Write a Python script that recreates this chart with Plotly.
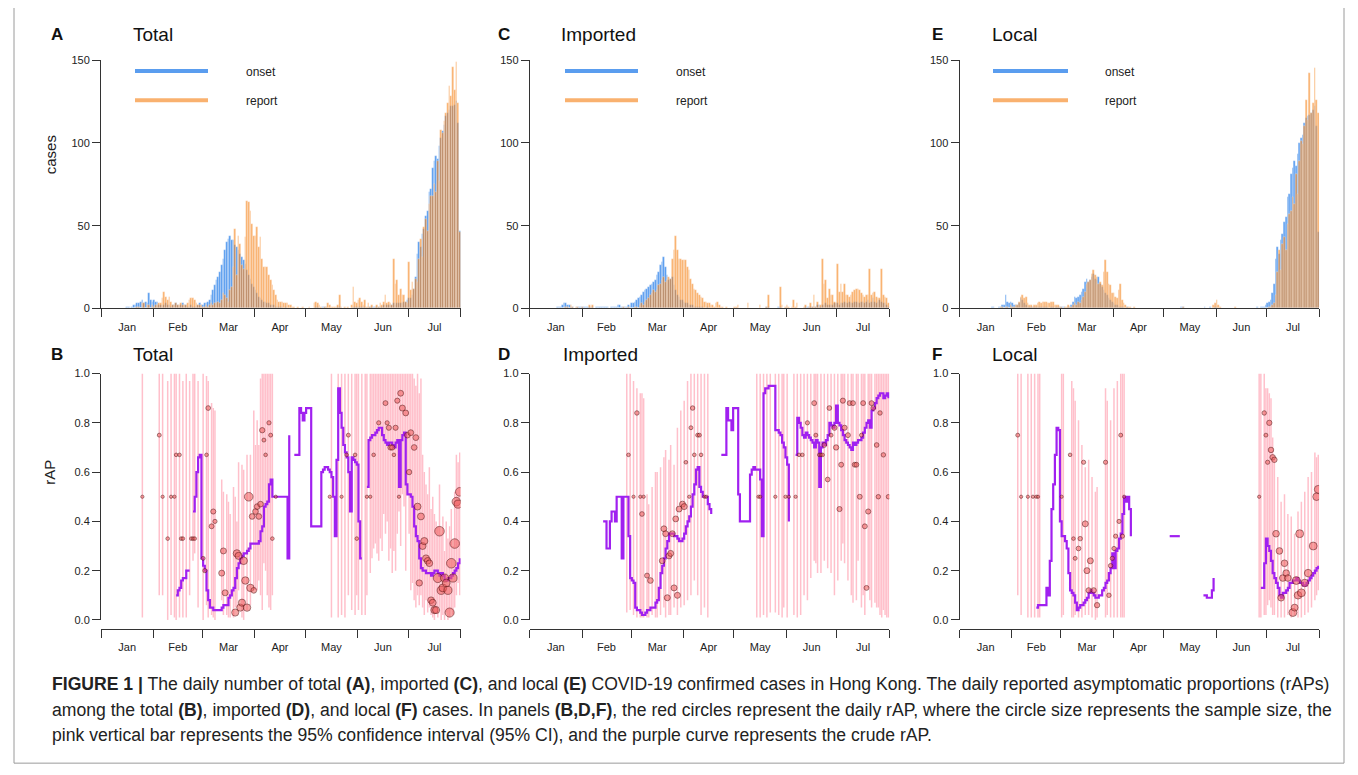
import numpy as np
import pandas as pd
import plotly.graph_objects as go

W, H = 1358, 775

# ---- daily case counts, 16 Jan .. 31 Jul 2020 (one line per month) ----
total_onset = (
    [1, 1, 0, 1, 2, 2, 3, 3, 4, 5, 3, 4, 3, 9, 5, 4]
    + [5, 4, 4, 2, 2, 1, 2, 3, 2, 2, 1, 2, 2, 3, 2, 1, 2, 3, 2, 2, 1, 1, 2, 1, 1, 1, 2, 3, 2]
    + [2, 3, 3, 4, 5, 8, 11, 14, 17, 19, 22, 26, 30, 35, 40, 42, 44, 41, 41, 38, 37, 35, 33, 31, 29, 27, 23, 20, 18, 15, 13]
    + [11, 9, 7, 6, 5, 4, 4, 3, 3, 2, 2, 2, 1, 1, 1, 1, 1, 0, 1, 0, 0, 0, 0, 0, 0, 0, 0, 0, 0, 0]
    + [0, 0, 0, 0, 0, 0, 1, 1, 0, 0, 1, 1, 1, 0, 0, 0, 0, 0, 0, 1, 1, 0, 0, 0, 0, 0, 0, 0, 1, 1, 1]
    + [1, 1, 1, 1, 1, 0, 1, 1, 1, 1, 1, 1, 1, 1, 1, 2, 1, 2, 2, 2, 2, 3, 2, 3, 3, 3, 3, 4, 4, 5]
    + [6, 6, 8, 12, 19, 33, 40, 37, 45, 48, 56, 59, 70, 72, 85, 89, 92, 90, 98, 103, 107, 111, 116, 118, 120, 122, 122, 123, 125, 112, 47]
)
total_report = (
    [0, 0, 0, 0, 0, 0, 1, 1, 0, 3, 3, 0, 2, 2, 0, 2]
    + [1, 2, 2, 3, 3, 6, 10, 7, 5, 7, 4, 2, 2, 3, 2, 2, 3, 2, 2, 2, 3, 5, 6, 6, 5, 3, 2, 2, 2]
    + [1, 1, 2, 1, 2, 3, 2, 3, 3, 4, 3, 5, 9, 8, 6, 4, 11, 13, 25, 48, 20, 44, 39, 26, 24, 43, 65, 64, 59, 51, 44]
    + [44, 49, 37, 43, 30, 25, 25, 25, 20, 17, 14, 11, 8, 5, 4, 4, 4, 3, 3, 3, 2, 2, 1, 1, 0, 1, 0, 0, 1, 0]
    + [0, 0, 1, 0, 0, 3, 4, 3, 2, 1, 0, 1, 1, 3, 2, 1, 1, 1, 1, 2, 8, 1, 0, 1, 0, 1, 0, 2, 13, 4, 3]
    + [5, 6, 4, 2, 5, 1, 3, 1, 2, 0, 1, 2, 1, 3, 2, 4, 8, 3, 4, 3, 2, 30, 15, 17, 8, 12, 8, 8, 4, 3]
    + [28, 11, 16, 12, 18, 16, 30, 42, 31, 49, 54, 47, 63, 68, 68, 75, 70, 89, 77, 108, 106, 113, 118, 124, 134, 128, 146, 132, 149, 124, 46]
)
imported_onset = (
    [0, 1, 1, 1, 2, 3, 3, 2, 2, 1, 1, 0, 0, 1, 1, 1]
    + [1, 1, 1, 1, 1, 0, 1, 0, 1, 1, 1, 1, 1, 1, 1, 1, 0, 1, 1, 1, 1, 2, 2, 1, 1, 1, 1, 2, 1]
    + [3, 3, 4, 5, 6, 7, 8, 10, 11, 12, 13, 14, 15, 16, 17, 20, 22, 26, 28, 31, 25, 20, 17, 18, 19, 14, 11, 8, 7, 5, 5]
    + [4, 3, 3, 2, 2, 2, 1, 1, 1, 1, 1, 1, 0, 0, 1, 0, 0, 0, 0, 0, 0, 0, 0, 0, 0, 0, 0, 0, 0, 0]
    + [0, 0, 0, 0, 0, 0, 0, 0, 0, 0, 0, 0, 0, 0, 0, 0, 0, 0, 0, 1, 1, 0, 0, 0, 0, 0, 1, 1, 0, 0, 0]
    + [1, 0, 0, 0, 0, 0, 0, 0, 0, 0, 0, 1, 1, 1, 1, 1, 1, 1, 2, 2, 1, 2, 2, 3, 2, 2, 2, 2, 3, 3]
    + [3, 2, 3, 3, 4, 3, 3, 4, 3, 3, 4, 4, 3, 3, 4, 4, 3, 4, 5, 3, 4, 6, 4, 3, 4, 5, 4, 3, 3, 2, 1]
)
imported_report = (
    [0, 0, 0, 0, 0, 0, 1, 1, 0, 2, 1, 0, 1, 1, 0, 0]
    + [1, 0, 0, 0, 2, 1, 2, 0, 0, 0, 0, 0, 0, 0, 0, 0, 0, 0, 0, 0, 0, 0, 0, 0, 1, 0, 0, 1, 0]
    + [0, 0, 1, 1, 0, 2, 3, 2, 4, 5, 6, 8, 9, 11, 10, 11, 14, 15, 17, 19, 16, 17, 19, 18, 30, 35, 44, 35, 30, 30, 29]
    + [29, 29, 25, 23, 18, 15, 12, 11, 9, 8, 7, 6, 4, 4, 3, 3, 2, 2, 1, 3, 4, 2, 1, 1, 0, 1, 0, 0, 0, 0]
    + [1, 1, 2, 0, 0, 0, 0, 0, 3, 0, 0, 0, 0, 0, 0, 2, 0, 0, 0, 1, 8, 0, 0, 0, 0, 0, 0, 13, 2, 0, 1]
    + [2, 1, 0, 1, 5, 1, 3, 0, 0, 0, 1, 2, 0, 1, 3, 1, 8, 1, 4, 1, 2, 30, 15, 17, 6, 12, 8, 8, 4, 3]
    + [27, 10, 15, 10, 15, 8, 8, 7, 8, 10, 11, 12, 12, 11, 9, 8, 7, 8, 8, 24, 8, 9, 10, 7, 6, 6, 24, 8, 7, 6, 3]
)
local_onset = (
    [0, 0, 0, 0, 1, 1, 0, 0, 1, 1, 2, 2, 8, 4, 3, 4]
    + [3, 2, 2, 2, 3, 6, 5, 3, 2, 1, 1, 1, 1, 1, 1, 1, 1, 1, 1, 1, 1, 1, 0, 1, 1, 0, 1, 1, 1]
    + [1, 1, 1, 0, 1, 1, 2, 4, 7, 6, 7, 8, 10, 12, 16, 18, 16, 17, 19, 21, 18, 17, 19, 15, 13, 11, 9, 8, 6, 5, 4]
    + [3, 2, 2, 1, 1, 1, 1, 0, 1, 0, 0, 0, 0, 0, 0, 0, 0, 0, 0, 0, 0, 0, 0, 0, 0, 0, 0, 0, 0, 0]
    + [0, 0, 0, 0, 0, 0, 0, 0, 0, 0, 1, 1, 0, 0, 0, 0, 0, 0, 0, 0, 0, 0, 0, 0, 1, 0, 0, 1, 0, 0, 1]
    + [1, 0, 0, 0, 0, 0, 0, 0, 0, 0, 0, 0, 0, 0, 0, 0, 0, 0, 0, 0, 0, 0, 0, 0, 1, 0, 1, 1, 1, 2]
    + [3, 4, 5, 9, 15, 30, 37, 33, 41, 45, 52, 55, 67, 69, 81, 85, 89, 86, 93, 100, 103, 105, 112, 115, 116, 117, 118, 120, 122, 110, 46]
)
local_report = (
    [0, 0, 0, 0, 0, 0, 0, 0, 0, 1, 1, 0, 1, 1, 0, 2]
    + [1, 1, 2, 2, 4, 7, 8, 6, 7, 3, 2, 2, 1, 2, 2, 3, 4, 3, 4, 4, 4, 3, 3, 4, 4, 2, 2, 2, 1]
    + [1, 0, 1, 1, 2, 1, 1, 2, 3, 2, 4, 3, 5, 7, 10, 15, 16, 17, 21, 23, 20, 19, 15, 16, 14, 22, 29, 22, 15, 14, 9]
    + [9, 7, 6, 11, 15, 5, 3, 2, 1, 1, 1, 0, 1, 0, 0, 0, 0, 0, 0, 0, 0, 0, 0, 0, 0, 0, 0, 0, 0, 0]
    + [0, 0, 0, 0, 0, 0, 0, 0, 0, 0, 0, 1, 0, 0, 0, 0, 0, 0, 0, 0, 0, 0, 0, 0, 0, 0, 0, 0, 0, 2, 3]
    + [5, 2, 1, 0, 0, 0, 0, 0, 0, 0, 0, 1, 0, 0, 0, 0, 0, 0, 0, 0, 0, 0, 0, 0, 0, 0, 0, 0, 0, 0]
    + [0, 1, 1, 2, 3, 8, 22, 35, 23, 39, 43, 35, 51, 57, 59, 67, 63, 81, 69, 89, 101, 99, 110, 126, 114, 142, 118, 124, 145, 126, 118]
)

# ---- daily rAP panels: day of year (0 = 1 Jan), 95% CI, point estimate, sample size ----
b_ci = [(24, .01, 1), (34, .10, 1), (36, .10, 1), (39, .00, .97), (41, .02, 1), (43, .01, 1), (44, .00, 1),
        (46, .01, 1), (48, .01, .97), (50, .01, 1), (52, .10, .97), (54, .24, 1), (55, .27, 1), (57, .05, .97),
        (60, .00, 1), (62, .06, .99), (63, .01, .97), (65, .02, .88), (66, .01, .86), (67, .00, .85),
        (71, .08, .57), (72, .02, .52), (74, .02, .51), (75, .01, .48), (76, .01, .43), (78, .01, .54),
        (79, .05, .50), (80, .05, .40), (81, .12, .64), (83, .01, .63), (84, .00, .61), (86, .04, .67),
        (88, .06, .67), (90, .12, .85), (91, .12, .71), (92, .12, .81), (93, .16, .71), (94, .10, .98),
        (95, .04, 1), (96, .23, 1), (97, .20, 1), (98, .10, 1), (99, .05, 1), (100, .04, 1), (101, .10, 1),
        (136, .01, 1), (140, .01, 1), (142, .02, 1), (144, .01, 1), (146, .10, 1), (148, .04, 1), (150, .02, 1),
        (151, .10, 1), (152, .04, 1), (154, .02, 1), (156, .02, 1), (157, .10, 1), (159, .19, 1), (160, .25, 1),
        (161, .29, 1), (162, .31, 1), (163, .27, 1), (164, .24, 1), (165, .33, 1), (166, .28, 1), (167, .43, 1),
        (168, .35, 1), (169, .40, 1), (170, .24, 1), (171, .29, 1), (172, .19, 1), (173, .28, 1), (174, .20, 1),
        (175, .35, 1), (176, .44, 1), (177, .30, 1), (178, .51, 1), (179, .46, 1), (180, .20, 1), (181, .51, 1),
        (182, .35, 1), (183, .12, 1), (184, .15, 1), (185, .08, .98), (186, .05, .95), (187, .10, 1),
        (188, .06, .92), (189, .10, .98), (190, .05, .67), (191, .02, .60), (192, .08, .55), (193, .03, .51),
        (194, .05, .62), (195, .02, .45), (196, .01, .50), (197, .00, .43), (198, .03, .40), (199, .01, .38),
        (200, .05, .55), (201, .00, .35), (202, .02, .42), (203, .00, .28), (204, .03, .40), (205, .00, .33),
        (206, .01, .38), (207, .04, .45), (208, .02, .30), (209, .05, .52), (210, .10, .67), (211, .15, .64),
        (212, .10, .68)]
b_pts = [(24, .50, 2), (34, .75, 4), (36, .50, 2), (39, .33, 3), (41, .50, 2), (43, .50, 2), (44, .67, 3),
         (46, .67, 3), (47, .33, 3), (48, .33, 3), (53, .33, 3), (54, .33, 3), (55, .33, 3), (60, .25, 4),
         (61, .20, 5), (62, .67, 3), (63, .86, 7), (65, .38, 8), (66, .44, 9), (67, .40, 5), (71, .19, 14),
         (72, .28, 14), (73, .11, 14), (79, .03, 22), (80, .27, 24), (81, .26, 22), (82, .05, 22), (83, .07, 22),
         (84, .24, 25), (85, .16, 24), (86, .05, 24), (87, .50, 35), (88, .13, 24), (89, .42, 12), (90, .12, 12),
         (91, .44, 12), (92, .46, 12), (93, .42, 12), (94, .47, 12), (95, .77, 10), (96, .73, 4), (97, .67, 3),
         (99, .80, 5), (100, .75, 4), (101, .33, 3), (103, .50, 2), (135, .50, 2), (142, .50, 2), (145, .67, 3),
         (146, .75, 4), (150, .67, 3), (151, .33, 3), (157, .50, 2), (159, .50, 2), (161, .67, 3), (164, .80, 5),
         (168, .88, 8), (169, .80, 5), (170, .78, 9), (171, .70, 10), (172, .70, 10), (173, .67, 3), (174, .78, 9),
         (175, .89, 9), (176, .50, 2), (177, .92, 13), (178, .86, 14), (180, .84, 13), (181, .75, 12),
         (182, .60, 10), (183, .76, 13), (185, .70, 12), (186, .74, 13), (187, .46, 20), (188, .15, 16),
         (189, .42, 20), (190, .30, 20), (191, .32, 22), (192, .25, 20), (193, .24, 18), (194, .23, 18),
         (195, .08, 18), (196, .07, 20), (197, .04, 22), (198, .04, 22), (199, .17, 40), (200, .36, 45),
         (201, .12, 30), (202, .13, 28), (203, .17, 30), (204, .15, 28), (205, .12, 30), (206, .03, 40),
         (207, .23, 45), (208, .17, 30), (209, .31, 45), (210, .48, 35), (211, .47, 30), (212, .52, 35)]
b_crude_start = 44
b_crude = [.10, .12, .13, .16, .17, .17, .20, .20, .20, None,
           .44, .50, .60, .66, .67, .25, .22, .20, .12, .08,
           .05, .05, .04, .04, .04, .04, .04, .05, .06, .06,
           .06, .09, .10, .12, .13, .17, .21, .23, .25, .26,
           .27, .27, .28, .29, .31, .31, .31, .31, .31, .32,
           .36, .38, .46, .47, .48, .55, .57, .50, .50, .50,
           .50, .50, .50, .50, .50, .50, .25, .75, None, None,
           .67, .67, .67, .86, .84, .81, .84, .86, .86, .86,
           .38, .38, .38, .38, .38, .38, .60, .61, .62, .62,
           .61, .60, .58, .50, .34, .65, .94, .84, .78, .71,
           .68, .66, .60, .44, .66, .65, .64, .63, .40, .25,
           .25, None, None, .54, .73, .74, .75, .75, .76, .77,
           .78, .78, .75, .73, .72, .71, .72, .72, .71, .70,
           .72, .73, .54, .73, .75, .76, .55, .51, .51, .50,
           .46, .38, .34, .32, .25, .21, .20, .20, .19, .19,
           .19, .18, .19, .20, .20, .19, .18, .19, .18, .16,
           .16, .17, .17, .18, .19, .20, .21, .23, .25]

d_ci = [(57, .03, 1), (59, .04, 1), (61, .02, .97), (63, .01, .94), (65, .01, .92), (66, .01, .92), (67, .01, .90),
        (69, .01, .51), (70, .01, .47), (72, .02, .54), (74, .01, .60), (75, .01, .60), (77, .02, .62),
        (79, .05, .66), (80, .01, .69), (82, .02, .65), (83, .02, .71), (85, .05, .63), (87, .02, .78),
        (89, .05, .85), (91, .06, .89), (93, .08, .97), (95, .10, 1), (97, .16, 1), (99, .10, 1), (101, .02, 1),
        (103, .05, 1), (105, .01, 1), (134, .01, 1), (136, .01, 1), (138, .02, 1), (140, .01, 1), (142, .03, 1),
        (145, .03, 1), (147, .02, 1), (149, .01, 1), (150, .05, 1), (152, .01, 1), (156, .02, 1), (158, .01, 1),
        (160, .02, 1), (162, .10, 1), (164, .08, 1), (166, .17, 1), (168, .24, 1), (169, .23, 1), (170, .19, 1),
        (172, .19, 1), (174, .24, 1), (176, .21, 1), (178, .19, 1), (180, .10, 1), (182, .16, 1), (184, .24, 1),
        (185, .31, 1), (186, .23, 1), (188, .16, 1), (190, .10, 1), (191, .07, 1), (193, .08, 1), (194, .24, 1),
        (196, .05, 1), (197, .10, 1), (198, .02, 1), (200, .13, 1), (201, .08, 1), (202, .05, 1), (204, .07, 1),
        (205, .05, 1), (206, .05, 1), (207, .02, 1), (208, .01, 1), (209, .04, 1), (210, .02, 1), (211, .01, 1),
        (212, .01, 1)]
d_pts = [(58, .67, 3), (61, .50, 2), (63, .84, 6), (65, .50, 2), (66, .43, 7), (67, .50, 2), (69, .18, 8),
         (71, .16, 12), (78, .24, 13), (79, .37, 13), (80, .35, 13), (81, .09, 14), (82, .26, 14), (83, .27, 14),
         (84, .35, 13), (85, .13, 14), (86, .41, 13), (87, .10, 14), (88, .45, 13), (90, .47, 14), (91, .46, 14),
         (92, .64, 3), (94, .50, 2), (95, .78, 4), (96, .86, 6), (97, .67, 3), (99, .75, 4), (100, .75, 4),
         (101, .67, 3), (103, .50, 2), (104, .50, 2), (135, .50, 2), (136, .50, 2), (145, .50, 2), (151, .50, 2),
         (153, .50, 2), (157, .50, 2), (159, .67, 3), (161, .67, 3), (164, .80, 5), (168, .88, 8), (169, .75, 4),
         (171, .67, 3), (172, .67, 3), (173, .67, 3), (174, .71, 7), (176, .57, 7), (177, .86, 7), (178, .75, 4),
         (180, .78, 9), (181, .70, 10), (183, .45, 9), (184, .63, 8), (185, .89, 9), (186, .78, 9), (188, .75, 8),
         (189, .88, 8), (191, .88, 8), (192, .63, 8), (193, .63, 8), (195, .50, 8), (196, .75, 4), (197, .88, 8),
         (198, .38, 8), (199, .13, 8), (200, .44, 9), (202, .88, 8), (203, .86, 7), (205, .71, 7), (206, .50, 6),
         (207, .84, 6), (209, .67, 6), (212, .50, 6)]
d_crude_start = 43
d_crude = [.40, .40, .29, .29, .40, .44, .44, .40, .50, .50,
           .50, .25, .50, .50, .50, .34, .17, .16, .15, .05,
           .04, .04, .03, .02, .02, .03, .04, .04, .05, .05,
           .05, .07, .08, .13, .19, .22, .25, .29, .32, .35,
           .35, .35, .34, .34, .33, .32, .32, .33, .35, .38,
           .40, .42, .46, .51, .55, .61, .62, .54, .52, .50,
           .50, .50, .47, .45, .43, None, None, None, None, None,
           .67, .67, .67, .86, .81, .81, .77, .86, .86, .86,
           .51, .40, .40, .40, .40, .40, .40, .59, .61, .62,
           .61, .61, .61, .57, .34, .92, .94, .94, .95, .95,
           .95, .95, .77, .77, .76, .75, .72, .70, .66, .63,
           .40, None, None, None, .67, .82, .80, .78, .75, .74,
           .76, .75, .74, .73, .72, .70, .73, .72, .54, .70,
           .72, .71, .73, .75, .80, .79, .78, .80, .87, .80,
           .79, .77, .75, .73, .72, .71, .70, .69, .72, .71,
           .72, .73, .73, .74, .76, .78, .80, .81, .78, .85,
           .86, .88, .90, .91, .92, .92, .90, .91, .92, .90]

f_ci = [(34, .10, 1), (36, .02, 1), (40, .01, 1), (42, .01, 1), (44, .01, 1), (46, .01, 1), (47, .01, 1),
        (60, .01, 1), (61, .02, 1), (66, .01, .97), (67, .01, .94), (68, .02, .89), (70, .01, .81), (72, .01, .71),
        (74, .02, .62), (76, .02, .65), (78, .01, .58), (80, .00, .52), (81, .01, .54), (86, .01, .94),
        (87, .02, .89), (89, .01, .81), (91, .01, .94), (93, .01, .97), (95, .01, 1), (96, .01, 1), (97, .01, 1),
        (177, .01, 1), (178, .01, 1), (180, .02, 1), (181, .02, .94), (182, .06, .94), (183, .08, .92),
        (184, .05, .90), (185, .02, .74), (186, .02, .65), (188, .01, .58), (190, .01, .48), (192, .01, .51),
        (194, .02, .43), (196, .01, .42), (198, .02, .35), (200, .01, .44), (202, .01, .48), (204, .02, .52),
        (206, .03, .58), (208, .05, .60), (210, .08, .68), (211, .10, .66), (212, .12, .67)]
f_pts = [(34, .75, 4), (36, .50, 2), (40, .50, 2), (43, .50, 2), (45, .50, 2), (46, .50, 2), (60, .50, 2),
         (65, .67, 3), (67, .33, 3), (68, .25, 4), (70, .29, 7), (71, .33, 6), (73, .64, 5), (74, .39, 14),
         (75, .20, 14), (76, .12, 10), (77, .24, 14), (79, .12, 10), (81, .06, 10), (86, .64, 5), (88, .10, 6),
         (89, .22, 6), (90, .25, 5), (91, .29, 5), (92, .34, 5), (94, .40, 5), (95, .75, 4), (96, .34, 5),
         (97, .50, 2), (177, .50, 2), (180, .84, 6), (181, .75, 4), (182, .64, 5), (183, .80, 10), (184, .69, 11),
         (185, .66, 11), (186, .65, 11), (187, .35, 18), (189, .28, 18), (190, .09, 18), (191, .17, 18),
         (192, .23, 18), (193, .19, 18), (194, .17, 18), (197, .03, 28), (198, .05, 20), (199, .16, 28),
         (200, .10, 25), (201, .35, 28), (202, .11, 28), (204, .15, 25), (206, .19, 25), (209, .30, 28),
         (211, .50, 25), (212, .53, 28)]
f_crude_start = 45
f_crude = [.05, .06, .06, .06, .06, .06, .13, .10, .24, .45,
           .55, .67, .78, .77, .40, .34, .34, .32, .29, .19,
           .12, .11, .10, .07, .04, .05, .06, .06, .07, .08,
           .09, .11, .12, .11, .10, .09, .09, .10, .10, .12,
           .13, .15, .16, .19, .21, .27, .21, .28, .29, .33,
           .35, .43, .50, .48, .50, .45, .34, None, None, None,
           None, None, None, None, None, None, None, None, None, None,
           None, None, None, None, None, None, None, None, None, .34,
           .34, .34, .34, .34, .34, .34, None, None, None, None,
           None, None, None, None, None, None, None, None, None, .10,
           .10, .09, .09, .09, .12, .17, None, None, None, None,
           None, None, None, None, None, None, None, None, None, None,
           None, None, None, None, None, None, None, None, None, None,
           None, None, None, .13, .13, .23, .33, .30, .28, .24,
           .19, .17, .15, .13, .10, .09, .11, .11, .12, .13,
           .15, .15, .16, .16, .17, .16, .15, .15, .14, .14,
           .15, .16, .17, .18, .19, .20, .21, .22]

# ---- styling ----
BLUE = "rgba(20,115,232,0.70)"
ORANGE = "rgba(245,125,15,0.60)"
PINK = "#ffc0cb"
PURPLE = "#a020f0"
TICK_FONT = dict(family="Liberation Sans Narrow, Arial Narrow, Liberation Sans, Arial", size=11, color="#222")
TEXT_FONT = "Liberation Sans, Arial, sans-serif"
DAY0 = pd.Timestamp("2020-01-01")


# positions below are given in pixels of the target picture; the page puts the
# figure 8 px right and maps it vertically as 0.983*y + 14, so undo that here
def fx(px):
    return (px - 8) / W


def fy(py):
    return 1 - ((py - 14) / 0.983) / H


def day_to_date(days, shift_hours=12):
    return [(DAY0 + pd.Timedelta(days=float(d), hours=shift_hours)).strftime("%Y-%m-%d %H:%M") for d in days]


bar_dates = [(pd.Timestamp("2020-01-16") + pd.Timedelta(days=i, hours=12)).strftime("%Y-%m-%d %H:%M")
             for i in range(len(total_onset))]

fig = go.Figure()

# top row: daily counts by onset / report date
top_panels = [("x", "y", total_onset, total_report),
              ("x2", "y2", imported_onset, imported_report),
              ("x3", "y3", local_onset, local_report)]
for xa, ya, onset, report in top_panels:
    for vals, col, name in [(onset, BLUE, "onset"), (report, ORANGE, "report")]:
        fig.add_trace(go.Bar(
            x=bar_dates, y=vals, xaxis=xa, yaxis=ya, name=name, showlegend=False,
            width=86400000, marker=dict(color=col, line=dict(color="rgba(255,255,255,0.45)", width=0.6)),
        ))

# bottom row: rAP with 95% CI, crude curve and daily points
bottom_panels = [("x4", "y4", b_ci, b_pts, b_crude_start, b_crude),
                 ("x5", "y5", d_ci, d_pts, d_crude_start, d_crude),
                 ("x6", "y6", f_ci, f_pts, f_crude_start, f_crude)]
for xa, ya, ci, pts, c_start, crude in bottom_panels:
    ci_x, ci_y = [], []
    for d, lo, hi in ci:
        t = day_to_date([d])[0]
        ci_x += [t, t, None]
        ci_y += [lo, hi, None]
    fig.add_trace(go.Scatter(x=ci_x, y=ci_y, xaxis=xa, yaxis=ya, mode="lines", showlegend=False,
                             line=dict(color=PINK, width=1.5), hoverinfo="skip"))
    crude_days = list(range(c_start, c_start + len(crude)))
    fig.add_trace(go.Scatter(x=day_to_date(crude_days), y=crude, xaxis=xa, yaxis=ya, mode="lines",
                             showlegend=False, connectgaps=False,
                             line=dict(color=PURPLE, width=2.2, shape="hv")))
    p_day = [p[0] for p in pts]
    p_val = [p[1] for p in pts]
    p_n = np.array([p[2] for p in pts], dtype=float)
    fig.add_trace(go.Scatter(x=day_to_date(p_day), y=p_val, xaxis=xa, yaxis=ya, mode="markers",
                             showlegend=False,
                             marker=dict(size=1.5 + 1.2 * np.sqrt(p_n), color="rgba(240,95,95,0.8)",
                                         line=dict(color="#5a1010", width=0.8))))

# axes
col_px = [(101, 460.6), (529.7, 889.3), (959.5, 1319.1)]
common_x = dict(type="date", range=["2020-01-01", "2020-08-01"], dtick="M1", tick0="2020-01-01",
                tickformat="%b", ticklabelmode="period", showline=True, linecolor="#333", linewidth=1,
                ticks="outside", ticklen=8, tickcolor="#333", showgrid=False, zeroline=False,
                tickfont=TICK_FONT, fixedrange=True)
common_y = dict(showline=True, linecolor="#333", linewidth=1, ticks="outside", ticklen=8, tickcolor="#333",
                showgrid=False, zeroline=False, tickfont=TICK_FONT, fixedrange=True)
axes = {}
for i, (x0, x1) in enumerate(col_px):
    top_x = "xaxis" if i == 0 else f"xaxis{i + 1}"
    top_y = "yaxis" if i == 0 else f"yaxis{i + 1}"
    top_yref = "y" if i == 0 else f"y{i + 1}"
    top_xref = "x" if i == 0 else f"x{i + 1}"
    axes[top_x] = dict(common_x, domain=[fx(x0), fx(x1)], anchor=top_yref)
    axes[top_y] = dict(common_y, domain=[fy(308), fy(60)], range=[0, 150], tickvals=[0, 50, 100, 150],
                       anchor=top_xref)
    bx, by = f"xaxis{i + 4}", f"yaxis{i + 4}"
    axes[bx] = dict(common_x, domain=[fx(x0), fx(x1)], anchor="free", position=fy(628))
    axes[by] = dict(common_y, domain=[fy(619), fy(373)], range=[0, 1], tickvals=[0, .2, .4, .6, .8, 1.0],
                    tickformat=".1f", anchor=f"x{i + 4}")

annotations = []
shapes = []

# panel letters and titles
for letter, title, lx, tx, ty in [("A", "Total", 57, 131, 34), ("C", "Imported", 504, 559, 34),
                                   ("E", "Local", 937, 990, 34), ("B", "Total", 57, 131, 354),
                                   ("D", "Imported", 504, 561, 354), ("F", "Local", 937, 990, 354)]:
    annotations.append(dict(text=f"<b>{letter}</b>", x=fx(lx), y=fy(ty), xref="paper", yref="paper",
                            xanchor="center", yanchor="middle", showarrow=False,
                            font=dict(family=TEXT_FONT, size=17, color="#111")))
    annotations.append(dict(text=title, x=fx(tx), y=fy(ty), xref="paper", yref="paper",
                            xanchor="left", yanchor="middle", showarrow=False,
                            font=dict(family=TEXT_FONT, size=19, color="#111")))

# legends in the top panels
for lx0, lx1, tx in [(135, 208, 244), (565, 638, 674), (993, 1068, 1103)]:
    for yy, col, lab in [(71, BLUE, "onset"), (100, ORANGE, "report")]:
        shapes.append(dict(type="line", xref="paper", yref="paper", x0=fx(lx0), x1=fx(lx1),
                           y0=fy(yy), y1=fy(yy), line=dict(color=col, width=4)))
        annotations.append(dict(text=lab, x=fx(tx), y=fy(yy + 1), xref="paper", yref="paper",
                                xanchor="left", yanchor="middle", showarrow=False,
                                font=dict(family=TEXT_FONT, size=12, color="#222")))

# axis titles
annotations.append(dict(text="cases", x=fx(50), y=fy(155), xref="paper", yref="paper", textangle=-90,
                        xanchor="center", yanchor="middle", showarrow=False,
                        font=dict(family=TEXT_FONT, size=15, color="#222")))
annotations.append(dict(text="rAP", x=fx(50), y=fy(472), xref="paper", yref="paper", textangle=-90,
                        xanchor="center", yanchor="middle", showarrow=False,
                        font=dict(family=TEXT_FONT, size=15, color="#222")))

# caption
caption = [
    "<b>FIGURE 1 |</b> The daily number of total <b>(A)</b>, imported <b>(C)</b>, and local <b>(E)</b> "
    "COVID-19 confirmed cases in Hong Kong. The daily reported asymptomatic proportions (rAPs)",
    "among the total <b>(B)</b>, imported <b>(D)</b>, and local <b>(F)</b> cases. In panels <b>(B,D,F)</b>, "
    "the red circles represent the daily rAP, where the circle size represents the sample size, the",
    "pink vertical bar represents the 95% confidence interval (95% CI), and the purple curve represents the crude rAP.",
]
for k, line in enumerate(caption):
    annotations.append(dict(text=line, x=fx(50), y=fy(683 + 25.5 * k), xref="paper", yref="paper",
                            xanchor="left", yanchor="middle", showarrow=False,
                            font=dict(family=TEXT_FONT, size=17.6, color="#222")))

# frame around the figure
shapes.append(dict(type="rect", xref="paper", yref="paper", x0=fx(14), x1=fx(1344), y0=fy(762), y1=fy(-4),
                   line=dict(color="#9a9a9a", width=1)))

fig.update_layout(
    width=W, height=H, margin=dict(l=0, r=0, t=0, b=0),
    paper_bgcolor="white", plot_bgcolor="white",
    barmode="overlay", bargap=0, showlegend=False,
    annotations=annotations, shapes=shapes,
    **axes,
)

fig.write_html("out.html")
